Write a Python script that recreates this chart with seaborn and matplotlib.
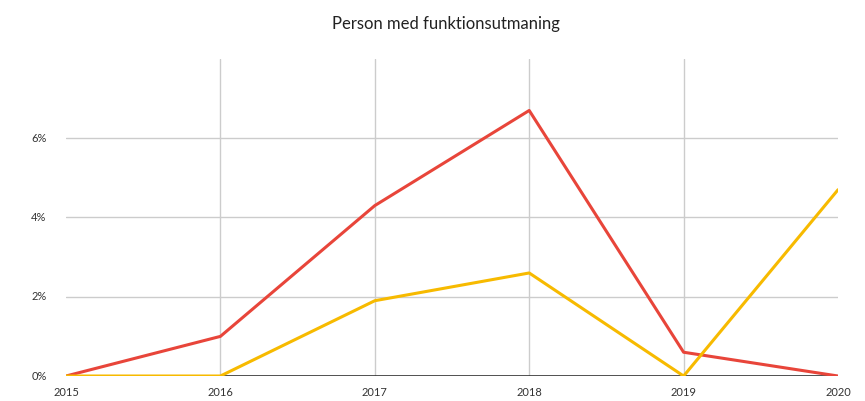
import pandas as pd
import numpy as np
import seaborn as sns
import matplotlib.pyplot as plt

# data
years = [2015, 2016, 2017, 2018, 2019, 2020]
red_values = [0.0, 1.0, 4.3, 6.7, 0.6, 0.0]
yellow_values = [0.0, 0.0, 1.9, 2.6, 0.0, 4.7]
y_ticks = [0, 2, 4, 6]

df = pd.DataFrame({
    "year": years * 2,
    "value": red_values + yellow_values,
    "series": ["red"] * len(years) + ["yellow"] * len(years),
})

sns.set_style("white")
plt.rcParams['font.family'] = ['Lato', 'DejaVu Sans']

fig = plt.figure(figsize=(8.65, 4.01), dpi=100)
ax = fig.add_axes([0.0763, 0.0623, 0.8925, 0.7907])

sns.lineplot(data=df, x="year", y="value", hue="series",
             palette={"red": "#E8453A", "yellow": "#F7BA00"},
             linewidth=2.2, legend=False, ax=ax, zorder=3)

ax.set_xlim(2015, 2020)
ax.set_ylim(0, 8)
ax.set_xticks(years)
ax.set_yticks(y_ticks)
ax.set_yticklabels([f"{t}%" for t in y_ticks])
ax.set_xlabel("")
ax.set_ylabel("")

# grid
for t in [2, 4, 6]:
    ax.axhline(t, color="#cccccc", linewidth=1, zorder=1)
for y in years[1:-1]:
    ax.axvline(y, color="#cccccc", linewidth=1, zorder=1)
ax.axhline(0, color="#333333", linewidth=1.2, zorder=2)

for s in ax.spines.values():
    s.set_visible(False)
ax.tick_params(axis="both", length=0, labelsize=8, colors="#333333")
ax.tick_params(axis="y", pad=14)
ax.tick_params(axis="x", pad=8)
for lbl in ax.get_yticklabels():
    lbl.set_verticalalignment("center")

fig.text(0.515, 0.94, "Person med funktionsutmaning", ha="center", va="center",
         fontsize=12, color="#222222")

plt.savefig("out.png", dpi=100)
